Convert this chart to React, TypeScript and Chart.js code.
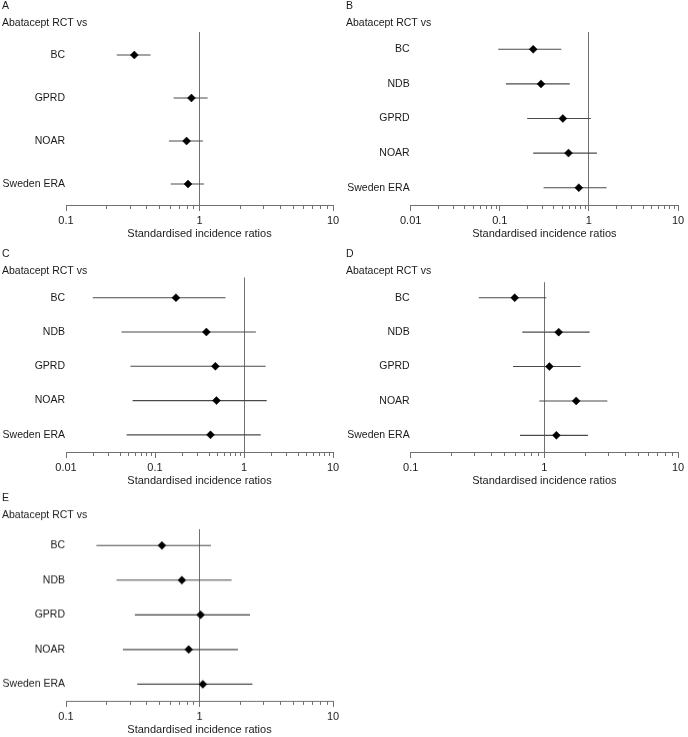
import React, { useEffect, useRef } from 'react';
import { Chart, registerables } from 'chart.js';

Chart.register(...registerables);

// ---------- data ----------
const rowsFour = ['BC', 'GPRD', 'NOAR', 'Sweden ERA'];
const rowsFive = ['BC', 'NDB', 'GPRD', 'NOAR', 'Sweden ERA'];

const ticksTwoDecades = ['0.1', '1', '10'];
const ticksThreeDecades = ['0.01', '0.1', '1', '10'];

const sirA = [0.325, 0.87, 0.8, 0.82];
const lowA = [0.24, 0.64, 0.59, 0.61];
const highA = [0.43, 1.15, 1.06, 1.08];

const sirB = [0.237, 0.29, 0.51, 0.59, 0.77];
const lowB = [0.096, 0.117, 0.203, 0.237, 0.31];
const highB = [0.49, 0.61, 1.05, 1.23, 1.58];

const sirC = [0.172, 0.378, 0.477, 0.49, 0.42];
const lowC = [0.02, 0.042, 0.053, 0.056, 0.048];
const highC = [0.62, 1.36, 1.75, 1.8, 1.54];

const sirD = [0.6, 1.28, 1.09, 1.73, 1.23];
const lowD = [0.323, 0.684, 0.583, 0.917, 0.658];
const highD = [1.035, 2.18, 1.87, 2.96, 2.12];

const sirE = [0.523, 0.738, 1.02, 0.83, 1.06];
const lowE = [0.169, 0.239, 0.328, 0.267, 0.342];
const highE = [1.22, 1.74, 2.39, 1.94, 2.49];

const subtitleText = 'Abatacept RCT vs';
const axisTitleText = 'Standardised incidence ratios';

// ---------- style / layout ----------
const FONT = "'Liberation Sans', Arial, Helvetica, sans-serif";
const TEXT = '#1a1a1a';
const AXIS = '#707070';
const BAR = '#4a4a4a';
const LABEL_SIZE = 10.5;

Chart.defaults.font.family = FONT;
Chart.defaults.font.size = 11;
Chart.defaults.color = TEXT;

type Panel = {
  letter: string;
  rows: string[];
  est: number[];
  lo: number[];
  hi: number[];
  ticks: string[];
  left: number;
  chartLeft: number;
  chartRight: number;
  line1: number;
  line2: number;
  chartTop: number;
  chartBottom: number;
  yMin: number;
  yMax: number;
};

const PANELS: Panel[] = [
  { letter: 'A', rows: rowsFour, est: sirA, lo: lowA, hi: highA, ticks: ticksTwoDecades,
    left: 0, chartLeft: 66, chartRight: 333, line1: 6.5, line2: 23.5, chartTop: 32, chartBottom: 205, yMin: -0.535, yMax: 3.488 },
  { letter: 'B', rows: rowsFive, est: sirB, lo: lowB, hi: highB, ticks: ticksThreeDecades,
    left: 344, chartLeft: 410.7, chartRight: 678, line1: 6.5, line2: 23.5, chartTop: 32, chartBottom: 205, yMin: -0.5, yMax: 4.5 },
  { letter: 'C', rows: rowsFive, est: sirC, lo: lowC, hi: highC, ticks: ticksThreeDecades,
    left: 0, chartLeft: 66, chartRight: 333, line1: 254, line2: 271, chartTop: 277, chartBottom: 452, yMin: -0.59, yMax: 4.5 },
  { letter: 'D', rows: rowsFive, est: sirD, lo: lowD, hi: highD, ticks: ticksTwoDecades,
    left: 344, chartLeft: 410.7, chartRight: 678, line1: 254, line2: 271, chartTop: 281.7, chartBottom: 452, yMin: -0.452, yMax: 4.484 },
  { letter: 'E', rows: rowsFive, est: sirE, lo: lowE, hi: highE, ticks: ticksTwoDecades,
    left: 0, chartLeft: 66, chartRight: 333, line1: 498.5, line2: 515.5, chartTop: 529, chartBottom: 700.7, yMin: -0.47, yMax: 4.48 },
];

const X_AXIS_H = 36;
const PAD_LEFT = 2;
const PAD_RIGHT = 10;

function buildLogTicks(labels: string[]) {
  const majors = labels.map(Number);
  const out: { value: number; major: boolean }[] = [];
  majors.forEach((m, i) => {
    out.push({ value: m, major: true });
    if (i < majors.length - 1) {
      for (let k = 2; k <= 9; k++) out.push({ value: Number((m * k).toPrecision(6)), major: false });
    }
  });
  return out;
}

const minorTickPlugin = {
  id: 'minorTicks',
  afterDraw(chart: any) {
    const s = chart.scales.x;
    const ctx = chart.ctx;
    ctx.save();
    ctx.strokeStyle = AXIS;
    ctx.lineWidth = 1;
    s.ticks.forEach((t: any) => {
      if (t.major) return;
      const x = Math.round(s.getPixelForValue(t.value)) + 0.5;
      ctx.beginPath();
      ctx.moveTo(x, s.top);
      ctx.lineTo(x, s.top + 4);
      ctx.stroke();
    });
    ctx.restore();
  },
};

function ForestPanel({ p }: { p: Panel }) {
  const ref = useRef<HTMLCanvasElement | null>(null);
  const canvasTop = p.line1 - 5.5;
  const width = p.chartRight + PAD_RIGHT - p.left;
  const height = p.chartBottom + X_AXIS_H - canvasTop;

  useEffect(() => {
    if (!ref.current) return;
    const majorVals = p.ticks.map(Number);
    const isMajor = (v: number) => majorVals.some((m) => Math.abs(m - v) < 1e-12);

    const datasets: any[] = [
      {
        label: 'SIR',
        data: p.est.map((v, i) => ({ x: v, y: i })),
        pointStyle: 'rectRot',
        pointRadius: 4,
        pointHoverRadius: 4,
        backgroundColor: '#000',
        borderColor: '#000',
        borderWidth: 0.5,
        showLine: false,
      },
      ...p.rows.map((r, i) => ({
        label: r + ' CI',
        data: [
          { x: p.lo[i], y: i },
          { x: p.hi[i], y: i },
        ],
        showLine: true,
        borderColor: BAR,
        borderWidth: 1.1,
        pointRadius: 0,
        pointHoverRadius: 0,
        fill: false,
      })),
    ];

    const chart = new Chart(ref.current, {
      type: 'scatter',
      data: { datasets },
      plugins: [minorTickPlugin],
      options: {
        animation: false,
        responsive: false,
        events: [],
        layout: { padding: { left: PAD_LEFT, right: PAD_RIGHT, top: 0, bottom: 0 } },
        plugins: {
          legend: { display: false },
          tooltip: { enabled: false },
          title: {
            display: true,
            text: p.letter,
            align: 'start',
            color: TEXT,
            font: { family: FONT, size: LABEL_SIZE, weight: 'normal', lineHeight: 11 / LABEL_SIZE },
            padding: { top: 0, bottom: Math.max(0, p.line2 - p.line1 - 11) },
          },
          subtitle: {
            display: true,
            text: subtitleText,
            align: 'start',
            color: TEXT,
            font: { family: FONT, size: LABEL_SIZE, weight: 'normal', lineHeight: 11 / LABEL_SIZE },
            padding: { top: 0, bottom: Math.max(0, p.chartTop - p.line2 - 5.5) },
          },
        },
        scales: {
          x: {
            type: 'logarithmic',
            position: 'bottom',
            min: majorVals[0],
            max: majorVals[majorVals.length - 1],
            afterBuildTicks: (scale: any) => {
              scale.ticks = buildLogTicks(p.ticks);
            },
            afterFit: (scale: any) => {
              scale.height = X_AXIS_H;
            },
            ticks: {
              autoSkip: false,
              maxRotation: 0,
              padding: 3,
              color: TEXT,
              font: { family: FONT, size: 11 },
              callback: (value: any) => {
                const idx = majorVals.findIndex((m) => Math.abs(m - Number(value)) < 1e-12);
                return idx >= 0 ? p.ticks[idx] : '';
              },
            },
            grid: {
              drawOnChartArea: true,
              drawTicks: true,
              tickLength: 6,
              lineWidth: 1,
              color: (ctx: any) =>
                ctx.tick && Math.abs(ctx.tick.value - 1) < 1e-12 ? AXIS : 'rgba(0,0,0,0)',
              tickColor: (ctx: any) =>
                ctx.tick && isMajor(ctx.tick.value) ? AXIS : 'rgba(0,0,0,0)',
            },
            border: { display: true, color: AXIS, width: 1 },
            title: {
              display: true,
              text: axisTitleText,
              color: TEXT,
              font: { family: FONT, size: 11, lineHeight: 1.2 },
              padding: { top: 0, bottom: 0 },
            },
          },
          y: {
            type: 'linear',
            position: 'left',
            reverse: true,
            min: p.yMin,
            max: p.yMax,
            afterBuildTicks: (scale: any) => {
              scale.ticks = p.rows.map((_, i) => ({ value: i }));
            },
            afterFit: (scale: any) => {
              scale.width = p.chartLeft - p.left - PAD_LEFT;
            },
            ticks: {
              autoSkip: false,
              padding: 1,
              color: TEXT,
              font: { family: FONT, size: LABEL_SIZE },
              callback: (value: any) => p.rows[Math.round(Number(value))] ?? '',
            },
            grid: { display: false, drawTicks: false },
            border: { display: false },
          },
        },
      } as any,
    });
    return () => chart.destroy();
  }, [p]);

  return (
    <canvas
      ref={ref}
      width={width}
      height={height}
      style={{ position: 'absolute', left: p.left, top: canvasTop, width, height }}
    />
  );
}

export default function App() {
  return (
    <div
      style={{
        position: 'fixed',
        left: 0,
        top: 0,
        width: 688,
        height: 737,
        background: '#fff',
        overflow: 'hidden',
      }}
    >
      {PANELS.map((p) => (
        <ForestPanel key={p.letter} p={p} />
      ))}
    </div>
  );
}
